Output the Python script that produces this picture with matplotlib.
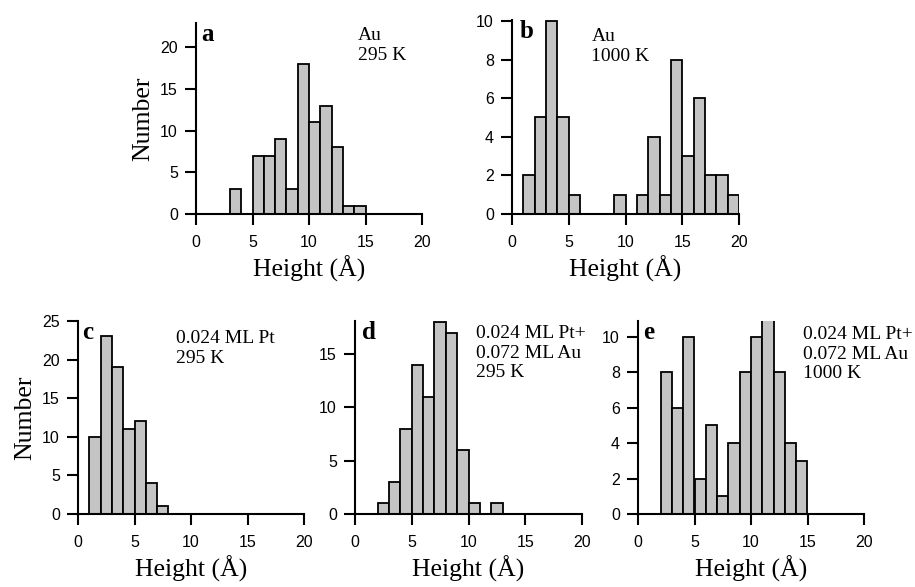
import numpy as np
import matplotlib
matplotlib.use("Agg")
import matplotlib.pyplot as plt

# bin left edges (1 Å bins, 0..19)
bins = np.arange(0, 20)

# counts per bin
counts_a = [0, 0, 0, 3, 0, 7, 7, 9, 3, 18, 11, 13, 8, 1, 1, 0, 0, 0, 0, 0]
counts_b = [0, 2, 5, 10, 5, 1, 0, 0, 0, 1, 0, 1, 4, 1, 8, 3, 6, 2, 2, 1]
counts_c = [0, 10, 23, 19, 11, 12, 4, 1, 0, 0, 0, 0, 0, 0, 0, 0, 0, 0, 0, 0]
counts_d = [0, 0, 1, 3, 8, 14, 11, 18, 17, 6, 1, 0, 1, 0, 0, 0, 0, 0, 0, 0]
counts_e = [0, 0, 8, 6, 10, 2, 5, 1, 4, 8, 10, 11, 8, 4, 3, 0, 0, 0, 0, 0]

letters = ["a", "b", "c", "d", "e"]
notes = ["Au\n295 K", "Au\n1000 K", "0.024 ML Pt\n295 K",
         "0.024 ML Pt+\n0.072 ML Au\n295 K", "0.024 ML Pt+\n0.072 ML Au\n1000 K"]
xticks = [0, 5, 10, 15, 20]

SANS = "Liberation Sans"
SERIF = "Liberation Serif"

W, H = 915, 587
fig = plt.figure(figsize=(W / 100, H / 100), dpi=100)


def px_axes(left, top, right, bottom):
    return fig.add_axes([left / W, 1 - bottom / H, (right - left) / W, (bottom - top) / H])


panels = [
    # (counts, box in px, ylim top, yticks, note x (data), note top px offset, letter x)
    (counts_a, (196, 23, 422, 214), 22.9, [0, 5, 10, 15, 20], 14.3, 4, 0.45),
    (counts_b, (512, 20, 739, 214), 10.05, [0, 2, 4, 6, 8, 10], 7.0, 8, 0.7),
    (counts_c, (78, 321, 304, 514), 25, [0, 5, 10, 15, 20, 25], 8.7, 9, 0.35),
    (counts_d, (355, 321, 582, 514), 18.1, [0, 5, 10, 15], 10.7, 4, 0.6),
    (counts_e, (638, 321, 864, 514), 10.9, [0, 2, 4, 6, 8, 10], 14.6, 5, 0.45),
]

for i, (counts, box, ytop, yticks, nx, ntop, lx) in enumerate(panels):
    ax = px_axes(*box)
    ax.bar(bins, counts, width=1.0, align="edge", color="#c4c4c4",
           edgecolor="black", linewidth=1.3, zorder=2)
    ax.set_xlim(0, 20)
    ax.set_ylim(0, ytop)
    ax.set_xticks(xticks)
    ax.set_yticks(yticks)
    for s in ["top", "right"]:
        ax.spines[s].set_visible(False)
    for s in ["left", "bottom"]:
        ax.spines[s].set_linewidth(1.5)
    ax.tick_params(direction="out", length=8, width=1.5, labelsize=11.5)
    ax.tick_params(axis="x", pad=7)
    ax.tick_params(axis="y", pad=5)
    for lab in ax.get_xticklabels() + ax.get_yticklabels():
        lab.set_fontfamily(SANS)
    ax.set_xlabel("Height (Å)", fontfamily=SERIF, fontsize=18.5, labelpad=4)
    if i in (0, 2):
        ax.set_ylabel("Number", fontfamily=SERIF, fontsize=18.5, labelpad=4)
    ax_h = box[3] - box[1]
    ax.text(lx, 1.0, letters[i], transform=ax.get_xaxis_transform(),
            fontfamily=SERIF, fontweight="bold", fontsize=18, va="top", ha="left")
    ax.text(nx, 1 - ntop / ax_h, notes[i], transform=ax.get_xaxis_transform(),
            fontfamily=SERIF, fontsize=14, va="top", ha="left", linespacing=1.2)

fig.savefig("out.png", dpi=100)
